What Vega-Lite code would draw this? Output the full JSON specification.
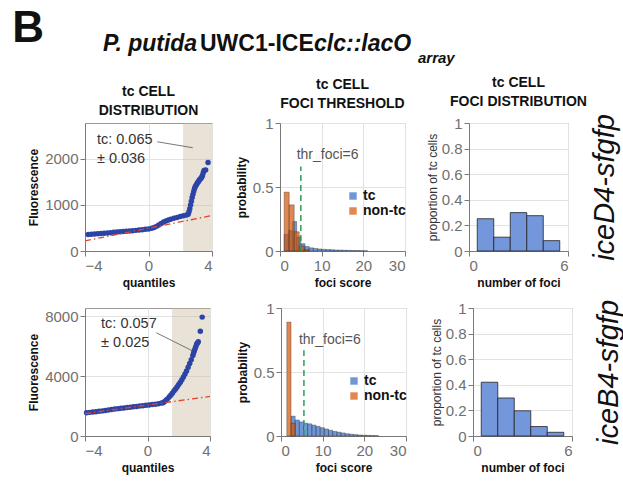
{
  "$schema": "https://vega.github.io/schema/vega-lite/v6.json",
  "padding": {"left": 12, "top": 7, "right": 2, "bottom": 2},
  "title": {"text": "B", "fontSize": 44, "fontWeight": "bold", "anchor": "start", "frame": "bounds", "baseline": "alphabetic", "offset": 0, "dx": -15, "dy": 53, "color": "#111"},
  "config": {
    "font": "Liberation Sans",
    "view": {"stroke": "#9a9a9a", "strokeWidth": 1},
    "axis": {
      "labelFont": "Liberation Sans", "labelFontSize": 15, "labelColor": "#707070",
      "titleFont": "Liberation Sans", "titleFontSize": 12, "titleFontWeight": "bold", "titleColor": "#111",
      "domainColor": "#7a7a7a", "tickColor": "#7a7a7a", "tickSize": 5,
      "gridColor": "#e2e2e2", "labelPadding": 2, "titlePadding": 4
    },
    "legend": {"labelFont": "Liberation Sans"}
  },
  "vconcat": [
    {
      "hconcat": [
        {"width": 18, "height": 1, "view": {"stroke": null}, "data": {"values": []}, "mark": "point"},
        {"width": 97, "height": 1, "view": {"stroke": null}, "data": {"values": []}, "mark": "point",
         "title": {"text": "P. putida", "fontSize": 23, "fontWeight": "bold", "fontStyle": "italic", "anchor": "start", "frame": "group", "baseline": "alphabetic", "offset": 0, "color": "#111"}},
        {"width": 114, "height": 1, "view": {"stroke": null}, "data": {"values": []}, "mark": "point",
         "title": {"text": "UWC1-ICE", "fontSize": 23, "fontWeight": "bold", "anchor": "start", "frame": "group", "baseline": "alphabetic", "offset": 0, "color": "#111"}},
        {"width": 104, "height": 1, "view": {"stroke": null}, "data": {"values": []}, "mark": "point",
         "title": {"text": "clc::lacO", "fontSize": 23, "fontWeight": "bold", "fontStyle": "italic", "anchor": "start", "frame": "group", "baseline": "alphabetic", "offset": 0, "color": "#111"}},
        {"width": 40, "height": 1, "view": {"stroke": null}, "data": {"values": []}, "mark": "point",
         "title": {"text": "array", "fontSize": 15, "fontWeight": "bold", "fontStyle": "italic", "anchor": "start", "frame": "group", "baseline": "alphabetic", "offset": 0, "dy": 4, "color": "#111"}}
      ],
      "spacing": 0,
      "bounds": "flush"
    },
    {
      "vconcat": [
        {
          "hconcat": [
            {
              "width": 127, "height": 128,
              "title": {"text": ["tc CELL", "DISTRIBUTION"], "fontSize": 14, "fontWeight": "bold", "lineHeight": 19, "frame": "group", "anchor": "middle", "offset": 5, "color": "#111"},
              "layer": [
                {"data": {"values": [{"a": 2.18, "b": 4}]},
                 "mark": {"type": "rect", "color": "#C9B79C", "opacity": 0.4},
                 "encoding": {"x": {"field": "a", "type": "quantitative"}, "x2": {"field": "b"}}},
                {"data": {"values": [
                  {"q": -3.8, "f": 360}, {"q": -3.6, "f": 365}, {"q": -3.4, "f": 370}, {"q": -3.2, "f": 375}, {"q": -3.0, "f": 380},
                  {"q": -2.8, "f": 385}, {"q": -2.6, "f": 392}, {"q": -2.4, "f": 398}, {"q": -2.2, "f": 405}, {"q": -2.0, "f": 412},
                  {"q": -1.8, "f": 418}, {"q": -1.6, "f": 424}, {"q": -1.4, "f": 430}, {"q": -1.2, "f": 436}, {"q": -1.0, "f": 442},
                  {"q": -0.8, "f": 448}, {"q": -0.6, "f": 455}, {"q": -0.4, "f": 462}, {"q": -0.2, "f": 470}, {"q": 0.0, "f": 480},
                  {"q": 0.2, "f": 492}, {"q": 0.35, "f": 510}, {"q": 0.5, "f": 535}, {"q": 0.65, "f": 565}, {"q": 0.8, "f": 598},
                  {"q": 0.95, "f": 628}, {"q": 1.1, "f": 652}, {"q": 1.25, "f": 672}, {"q": 1.4, "f": 690}, {"q": 1.6, "f": 710},
                  {"q": 1.8, "f": 730}, {"q": 2.0, "f": 748}, {"q": 2.2, "f": 765}, {"q": 2.4, "f": 780}, {"q": 2.5, "f": 800},
                  {"q": 2.55, "f": 850}, {"q": 2.6, "f": 920}, {"q": 2.65, "f": 1000}, {"q": 2.7, "f": 1080}, {"q": 2.75, "f": 1160},
                  {"q": 2.8, "f": 1230}, {"q": 2.85, "f": 1300}, {"q": 2.9, "f": 1360}, {"q": 2.95, "f": 1400}, {"q": 3.0, "f": 1430},
                  {"q": 3.05, "f": 1460}, {"q": 3.1, "f": 1490}, {"q": 3.15, "f": 1510}, {"q": 3.2, "f": 1540}, {"q": 3.25, "f": 1560},
                  {"q": 3.3, "f": 1580}, {"q": 3.35, "f": 1600}, {"q": 3.4, "f": 1640}, {"q": 3.45, "f": 1700}, {"q": 3.5, "f": 1750},
                  {"q": 3.6, "f": 1760}, {"q": 3.75, "f": 1920}
                 ]},
                 "mark": {"type": "point", "filled": true, "size": 30, "color": "#2B44A6", "opacity": 1},
                 "encoding": {
                   "x": {"field": "q", "type": "quantitative", "scale": {"domain": [-4, 4], "nice": false}, "axis": {"values": [-4, -2, 0, 2, 4], "title": "quantiles"}},
                   "y": {"field": "f", "type": "quantitative", "scale": {"domain": [0, 2780], "nice": false}, "axis": {"values": [0, 1000, 2000], "format": "d", "title": "Fluorescence"}}
                 }},
                {"data": {"values": [{"q": -4, "f": 220}, {"q": 4, "f": 770}]},
                 "mark": {"type": "line", "color": "#E5432C", "strokeWidth": 1.3, "strokeDash": [6, 3, 1.5, 3]},
                 "encoding": {"x": {"field": "q", "type": "quantitative"}, "y": {"field": "f", "type": "quantitative"}}},
                {"data": {"values": [{"q": 0.55, "f": 2372, "q2": 2.79, "f2": 2243}]},
                 "mark": {"type": "rule", "color": "#555", "strokeWidth": 0.8},
                 "encoding": {"x": {"field": "q", "type": "quantitative"}, "y": {"field": "f", "type": "quantitative"}, "x2": {"field": "q2"}, "y2": {"field": "f2"}}},
                {"data": {"values": [{"q": -3.25, "f": 2404, "t": "tc: 0.065"}, {"q": -3.25, "f": 2006, "t": "± 0.036"}]},
                 "mark": {"type": "text", "align": "left", "baseline": "middle", "fontSize": 14.5, "color": "#333"},
                 "encoding": {"x": {"field": "q", "type": "quantitative"}, "y": {"field": "f", "type": "quantitative"}, "text": {"field": "t"}}}
              ]
            },
            {
              "width": 125, "height": 128,
              "title": {"text": ["tc CELL", "FOCI THRESHOLD"], "fontSize": 14, "fontWeight": "bold", "lineHeight": 19, "frame": "group", "anchor": "middle", "offset": 5, "color": "#111"},
              "layer": [
                {"data": {"values": [
                  {"g": "tc", "a": 1, "b": 2, "p": 0.13}, {"g": "tc", "a": 2, "b": 3, "p": 0.16}, {"g": "tc", "a": 3, "b": 4, "p": 0.23},
                  {"g": "tc", "a": 4, "b": 5, "p": 0.11}, {"g": "tc", "a": 5, "b": 6, "p": 0.057}, {"g": "tc", "a": 6, "b": 7, "p": 0.035},
                  {"g": "tc", "a": 7, "b": 8, "p": 0.025}, {"g": "tc", "a": 8, "b": 9, "p": 0.02}, {"g": "tc", "a": 9, "b": 10, "p": 0.016},
                  {"g": "tc", "a": 10, "b": 11, "p": 0.013}, {"g": "tc", "a": 11, "b": 12, "p": 0.011}, {"g": "tc", "a": 12, "b": 13, "p": 0.01},
                  {"g": "tc", "a": 13, "b": 14, "p": 0.008}, {"g": "tc", "a": 14, "b": 15, "p": 0.007}, {"g": "tc", "a": 15, "b": 16, "p": 0.006},
                  {"g": "tc", "a": 16, "b": 17, "p": 0.005}, {"g": "tc", "a": 17, "b": 18, "p": 0.004}, {"g": "tc", "a": 18, "b": 19, "p": 0.004},
                  {"g": "tc", "a": 19, "b": 20, "p": 0.003}, {"g": "tc", "a": 20, "b": 21, "p": 0.002},
                  {"g": "non-tc", "a": 1.0, "b": 2.2, "p": 0.46}, {"g": "non-tc", "a": 2.2, "b": 3.4, "p": 0.36},
                  {"g": "non-tc", "a": 3.4, "b": 4.6, "p": 0.15}, {"g": "non-tc", "a": 4.6, "b": 5.8, "p": 0.04}, {"g": "non-tc", "a": 5.8, "b": 7.0, "p": 0.01}
                 ]},
                 "mark": {"type": "bar", "fillOpacity": 0.7, "stroke": "#222", "strokeWidth": 0.5, "strokeOpacity": 0.7},
                 "encoding": {
                   "x": {"field": "a", "type": "quantitative", "scale": {"domain": [0, 30], "nice": false}, "axis": {"values": [0, 10, 20, 30], "title": "foci score"}},
                   "x2": {"field": "b"},
                   "y": {"field": "p", "type": "quantitative", "scale": {"domain": [0, 1], "nice": false}, "axis": {"values": [0, 0.5, 1], "format": "~g", "title": "probability"}},
                   "y2": {"datum": 0},
                   "color": {"field": "g", "type": "nominal", "scale": {"domain": ["tc", "non-tc"], "range": ["#3369C2", "#D45405"]},
                     "legend": {"orient": "none", "legendX": 66, "legendY": 66, "title": null, "symbolType": "square", "symbolSize": 55, "symbolOpacity": 0.7, "symbolStrokeWidth": 0, "labelFontSize": 14, "labelFontWeight": "bold", "labelColor": "#111", "rowPadding": 1, "labelOffset": 3}}
                 }},
                {"data": {"values": [{"x": 5, "y0": 0, "y1": 0.66}]},
                 "mark": {"type": "rule", "color": "#2E9B57", "strokeWidth": 1.5, "strokeDash": [6, 4]},
                 "encoding": {"x": {"field": "x", "type": "quantitative"}, "y": {"field": "y0", "type": "quantitative"}, "y2": {"field": "y1"}}},
                {"data": {"values": [{"x": 4, "y": 0.75, "t": "thr_foci=6"}]},
                 "mark": {"type": "text", "align": "left", "baseline": "middle", "fontSize": 14, "color": "#555"},
                 "encoding": {"x": {"field": "x", "type": "quantitative"}, "y": {"field": "y", "type": "quantitative"}, "text": {"field": "t"}}}
              ]
            },
            {
              "width": 99, "height": 128,
              "title": {"text": ["tc CELL", "FOCI DISTRIBUTION"], "fontSize": 14, "fontWeight": "bold", "lineHeight": 19, "frame": "group", "anchor": "middle", "offset": 5, "color": "#111"},
              "data": {"values": [
                {"lo": 0.5, "hi": 1.5, "p": 0.252}, {"lo": 1.5, "hi": 2.5, "p": 0.108}, {"lo": 2.5, "hi": 3.5, "p": 0.30},
                {"lo": 3.5, "hi": 4.5, "p": 0.276}, {"lo": 4.5, "hi": 5.5, "p": 0.081}
              ]},
              "layer": [
                {"mark": {"type": "bar", "color": "#7397DA", "stroke": "#222", "strokeWidth": 0.8},
                 "encoding": {
                   "x": {"field": "lo", "type": "quantitative", "scale": {"domain": [0, 6], "nice": false}, "axis": {"values": [0, 2, 4, 6], "title": "number of foci"}},
                   "x2": {"field": "hi"},
                   "y": {"field": "p", "type": "quantitative", "scale": {"domain": [0, 1], "nice": false}, "axis": {"values": [0, 0.2, 0.4, 0.6, 0.8, 1], "format": "~g", "title": "proportion of tc cells", "titleFontWeight": "normal", "titleColor": "#333", "titlePadding": 2}},
                   "y2": {"datum": 0}
                 }},
                {"mark": {"type": "bar", "opacity": 0},
                 "encoding": {
                   "x": {"field": "lo", "type": "quantitative"},
                   "x2": {"field": "hi"},
                   "y": {"field": "p", "type": "quantitative", "axis": {"orient": "right", "labels": false, "ticks": false, "domain": false, "grid": false, "title": "iceD4-sfgfp", "titleFontSize": 29, "titleFontWeight": "normal", "titleFontStyle": "italic", "titleColor": "#111", "titleAngle": 270, "titleBaseline": "top", "titlePadding": 22}},
                   "y2": {"datum": 0}
                 }}
              ],
              "resolve": {"axis": {"y": "independent"}}
            }
          ],
          "spacing": 18,
          "resolve": {"scale": {"color": "independent"}, "legend": {"color": "independent"}}
        },
        {
          "hconcat": [
            {
              "width": 125, "height": 128,
              "layer": [
                {"data": {"values": [{"a": 1.57, "b": 4}]},
                 "mark": {"type": "rect", "color": "#C9B79C", "opacity": 0.4},
                 "encoding": {"x": {"field": "a", "type": "quantitative"}, "x2": {"field": "b"}}},
                {"data": {"values": [
                  {"q": -3.9, "f": 1560}, {"q": -3.7, "f": 1580}, {"q": -3.5, "f": 1600}, {"q": -3.3, "f": 1620}, {"q": -3.1, "f": 1650},
                  {"q": -2.9, "f": 1680}, {"q": -2.7, "f": 1710}, {"q": -2.5, "f": 1740}, {"q": -2.3, "f": 1770}, {"q": -2.1, "f": 1800},
                  {"q": -1.9, "f": 1830}, {"q": -1.7, "f": 1855}, {"q": -1.5, "f": 1880}, {"q": -1.3, "f": 1905}, {"q": -1.1, "f": 1930},
                  {"q": -0.9, "f": 1955}, {"q": -0.7, "f": 1980}, {"q": -0.5, "f": 2000}, {"q": -0.3, "f": 2025}, {"q": -0.1, "f": 2050},
                  {"q": 0.1, "f": 2075}, {"q": 0.3, "f": 2100}, {"q": 0.5, "f": 2130}, {"q": 0.7, "f": 2160}, {"q": 0.9, "f": 2200},
                  {"q": 1.0, "f": 2230}, {"q": 1.1, "f": 2300}, {"q": 1.2, "f": 2400}, {"q": 1.3, "f": 2500}, {"q": 1.4, "f": 2620},
                  {"q": 1.5, "f": 2750}, {"q": 1.6, "f": 2880}, {"q": 1.7, "f": 3020}, {"q": 1.8, "f": 3150}, {"q": 1.9, "f": 3300},
                  {"q": 2.0, "f": 3450}, {"q": 2.1, "f": 3600}, {"q": 2.2, "f": 3770}, {"q": 2.3, "f": 3950}, {"q": 2.4, "f": 4150},
                  {"q": 2.5, "f": 4350}, {"q": 2.6, "f": 4600}, {"q": 2.7, "f": 4850}, {"q": 2.8, "f": 5100}, {"q": 2.9, "f": 5380},
                  {"q": 2.95, "f": 5550}, {"q": 3.0, "f": 5700}, {"q": 3.05, "f": 5850}, {"q": 3.1, "f": 6000}, {"q": 3.15, "f": 6150},
                  {"q": 3.2, "f": 6220}, {"q": 3.25, "f": 6300}, {"q": 3.38, "f": 7000}, {"q": 3.5, "f": 7950}
                 ]},
                 "mark": {"type": "point", "filled": true, "size": 30, "color": "#2B44A6", "opacity": 1},
                 "encoding": {
                   "x": {"field": "q", "type": "quantitative", "scale": {"domain": [-4, 4], "nice": false}, "axis": {"values": [-4, -2, 0, 2, 4], "title": "quantiles"}},
                   "y": {"field": "f", "type": "quantitative", "scale": {"domain": [0, 8560], "nice": false}, "axis": {"values": [0, 2000, 4000, 6000, 8000], "format": "d", "title": "Fluorescence"}}
                 }},
                {"data": {"values": [{"q": -4, "f": 1500}, {"q": 4, "f": 2645}]},
                 "mark": {"type": "line", "color": "#E5432C", "strokeWidth": 1.3, "strokeDash": [6, 3, 1.5, 3]},
                 "encoding": {"x": {"field": "q", "type": "quantitative"}, "y": {"field": "f", "type": "quantitative"}}},
                {"data": {"values": [{"q": 0.57, "f": 6900, "q2": 2.87, "f2": 5700}]},
                 "mark": {"type": "rule", "color": "#555", "strokeWidth": 0.8},
                 "encoding": {"x": {"field": "q", "type": "quantitative"}, "y": {"field": "f", "type": "quantitative"}, "x2": {"field": "q2"}, "y2": {"field": "f2"}}},
                {"data": {"values": [{"q": -2.97, "f": 7500, "t": "tc: 0.057"}, {"q": -2.97, "f": 6240, "t": "± 0.025"}]},
                 "mark": {"type": "text", "align": "left", "baseline": "middle", "fontSize": 14.5, "color": "#333"},
                 "encoding": {"x": {"field": "q", "type": "quantitative"}, "y": {"field": "f", "type": "quantitative"}, "text": {"field": "t"}}}
              ]
            },
            {
              "width": 125, "height": 128,
              "layer": [
                {"data": {"values": [
                  {"g": "tc", "a": 2.4, "b": 3.4, "p": 0.155}, {"g": "tc", "a": 3.4, "b": 4.4, "p": 0.125}, {"g": "tc", "a": 4.4, "b": 5.4, "p": 0.11},
                  {"g": "tc", "a": 5.4, "b": 6.4, "p": 0.1}, {"g": "tc", "a": 6.4, "b": 7.4, "p": 0.095}, {"g": "tc", "a": 7.4, "b": 8.4, "p": 0.085},
                  {"g": "tc", "a": 8.4, "b": 9.4, "p": 0.075}, {"g": "tc", "a": 9.4, "b": 10.4, "p": 0.065}, {"g": "tc", "a": 10.4, "b": 11.4, "p": 0.055},
                  {"g": "tc", "a": 11.4, "b": 12.4, "p": 0.045}, {"g": "tc", "a": 12.4, "b": 13.4, "p": 0.036}, {"g": "tc", "a": 13.4, "b": 14.4, "p": 0.03},
                  {"g": "tc", "a": 14.4, "b": 15.4, "p": 0.024}, {"g": "tc", "a": 15.4, "b": 16.4, "p": 0.018}, {"g": "tc", "a": 16.4, "b": 17.4, "p": 0.014},
                  {"g": "tc", "a": 17.4, "b": 18.4, "p": 0.011}, {"g": "tc", "a": 18.4, "b": 19.4, "p": 0.008}, {"g": "tc", "a": 19.4, "b": 20.4, "p": 0.006},
                  {"g": "tc", "a": 20.4, "b": 21.4, "p": 0.005}, {"g": "tc", "a": 21.4, "b": 22.4, "p": 0.004}, {"g": "tc", "a": 22.4, "b": 23.4, "p": 0.003},
                  {"g": "non-tc", "a": 1.4, "b": 2.4, "p": 0.89}, {"g": "non-tc", "a": 2.4, "b": 3.4, "p": 0.1}
                 ]},
                 "mark": {"type": "bar", "fillOpacity": 0.7, "stroke": "#222", "strokeWidth": 0.5, "strokeOpacity": 0.7},
                 "encoding": {
                   "x": {"field": "a", "type": "quantitative", "scale": {"domain": [0, 30], "nice": false}, "axis": {"values": [0, 10, 20, 30], "title": "foci score"}},
                   "x2": {"field": "b"},
                   "y": {"field": "p", "type": "quantitative", "scale": {"domain": [0, 1], "nice": false}, "axis": {"values": [0, 0.5, 1], "format": "~g", "title": "probability"}},
                   "y2": {"datum": 0},
                   "color": {"field": "g", "type": "nominal", "scale": {"domain": ["tc", "non-tc"], "range": ["#3369C2", "#D45405"]},
                     "legend": {"orient": "none", "legendX": 66, "legendY": 66, "title": null, "symbolType": "square", "symbolSize": 55, "symbolOpacity": 0.7, "symbolStrokeWidth": 0, "labelFontSize": 14, "labelFontWeight": "bold", "labelColor": "#111", "rowPadding": 1, "labelOffset": 3}}
                 }},
                {"data": {"values": [{"x": 5.5, "y0": 0, "y1": 0.67}]},
                 "mark": {"type": "rule", "color": "#2E9B57", "strokeWidth": 1.5, "strokeDash": [6, 4]},
                 "encoding": {"x": {"field": "x", "type": "quantitative"}, "y": {"field": "y0", "type": "quantitative"}, "y2": {"field": "y1"}}},
                {"data": {"values": [{"x": 4.3, "y": 0.75, "t": "thr_foci=6"}]},
                 "mark": {"type": "text", "align": "left", "baseline": "middle", "fontSize": 14, "color": "#555"},
                 "encoding": {"x": {"field": "x", "type": "quantitative"}, "y": {"field": "y", "type": "quantitative"}, "text": {"field": "t"}}}
              ]
            },
            {
              "width": 99, "height": 128,
              "data": {"values": [
                {"lo": 0.5, "hi": 1.5, "p": 0.42}, {"lo": 1.5, "hi": 2.5, "p": 0.297}, {"lo": 2.5, "hi": 3.5, "p": 0.197},
                {"lo": 3.5, "hi": 4.5, "p": 0.074}, {"lo": 4.5, "hi": 5.5, "p": 0.029}
              ]},
              "layer": [
                {"mark": {"type": "bar", "color": "#7397DA", "stroke": "#222", "strokeWidth": 0.8},
                 "encoding": {
                   "x": {"field": "lo", "type": "quantitative", "scale": {"domain": [0, 6], "nice": false}, "axis": {"values": [0, 2, 4, 6], "title": "number of foci"}},
                   "x2": {"field": "hi"},
                   "y": {"field": "p", "type": "quantitative", "scale": {"domain": [0, 1], "nice": false}, "axis": {"values": [0, 0.2, 0.4, 0.6, 0.8, 1], "format": "~g", "title": "proportion of tc cells", "titleFontWeight": "normal", "titleColor": "#333", "titlePadding": 2}},
                   "y2": {"datum": 0}
                 }},
                {"mark": {"type": "bar", "opacity": 0},
                 "encoding": {
                   "x": {"field": "lo", "type": "quantitative"},
                   "x2": {"field": "hi"},
                   "y": {"field": "p", "type": "quantitative", "axis": {"orient": "right", "labels": false, "ticks": false, "domain": false, "grid": false, "title": "iceB4-sfgfp", "titleFontSize": 29, "titleFontWeight": "normal", "titleFontStyle": "italic", "titleColor": "#111", "titleAngle": 270, "titleBaseline": "top", "titlePadding": 22}},
                   "y2": {"datum": 0}
                 }}
              ],
              "resolve": {"axis": {"y": "independent"}}
            }
          ],
          "spacing": 21,
          "resolve": {"scale": {"color": "independent"}, "legend": {"color": "independent"}}
        }
      ],
      "spacing": 9,
      "resolve": {"scale": {"color": "independent"}, "legend": {"color": "independent"}}
    }
  ],
  "spacing": 0,
  "resolve": {"scale": {"color": "independent"}, "legend": {"color": "independent"}}
}
